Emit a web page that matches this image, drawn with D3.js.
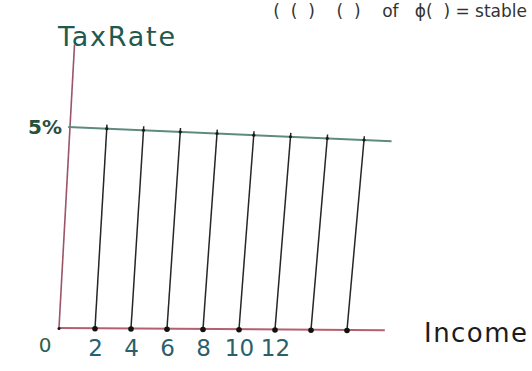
<!DOCTYPE html>
<html>
<head>
<meta charset="utf-8">
<script src="https://cdn.jsdelivr.net/npm/d3@7"></script>
<style>
  body { margin: 0; background: #fff; }
  svg { display: block; }
</style>
</head>
<body>
<div id="chart"></div>
<script>
// values
const incomeLevels = [2, 4, 6, 8, 10, 12, 14, 16]; // one vertical drop per level
const incomeTicks = [2, 4, 6, 8, 10, 12];          // labels written under the axis
const taxRate = 5;                                  // flat rate, percent
const taxRateLabel = "5%";
const yAxisTitle = "TaxRate";
const xAxisTitle = "Income";
const topLine = "(  (  )    (  )    of   ϕ(  ) = stable";

const width = 532,
  height = 371;

const svg = d3
  .select("#chart")
  .append("svg")
  .attr("width", width)
  .attr("height", height);

// scales into a unit square, then a bilinear warp for the hand-drawn lean
const u = d3.scaleLinear().domain([0, 16]).range([0, 1]);
const v = d3.scaleLinear().domain([0, taxRate]).range([0, 1]);

// corners of the sketch: origin, x=16 on axis, 5% on y axis, 5% at x=16
const P00 = [59, 328],
  P10 = [347, 330],
  P01 = [70, 127],
  P11 = [364, 140];

function warp(x, y) {
  const a = u(x),
    b = v(y);
  return [
    (1 - a) * (1 - b) * P00[0] + a * (1 - b) * P10[0] + (1 - a) * b * P01[0] + a * b * P11[0],
    (1 - a) * (1 - b) * P00[1] + a * (1 - b) * P10[1] + (1 - a) * b * P01[1] + a * b * P11[1],
  ];
}

const line = d3.line();

// top line of the notebook page
svg
  .append("text")
  .attr("x", 527)
  .attr("y", 17)
  .attr("text-anchor", "end")
  .style("white-space", "pre")
  .style("font-family", "DejaVu Sans")
  .style("font-size", "17px")
  .style("fill", "#333")
  .text(topLine);

// y axis
svg
  .append("path")
  .attr("d", line([warp(0, 0), warp(0, 7.05)]))
  .style("stroke", "#9a5566")
  .style("stroke-width", 1.6)
  .style("fill", "none");

// x axis line
svg
  .append("path")
  .attr("d", line([warp(0, 0), warp(18.1, 0)]))
  .style("stroke", "#b5606f")
  .style("stroke-width", 2)
  .style("fill", "none");

// flat tax rate line
svg
  .append("path")
  .attr("d", line([warp(-0.1, taxRate), warp(17.5, taxRate)]))
  .style("stroke", "#5f8a80")
  .style("stroke-width", 2)
  .style("fill", "none");

// vertical drops from the rate line to each income level
svg
  .selectAll(".drop")
  .data(incomeLevels)
  .join("path")
  .attr("class", "drop")
  .attr("d", (d) => line([warp(d, 0), warp(d, taxRate * 1.02)]))
  .style("stroke", "#262626")
  .style("stroke-width", 1.5)
  .style("fill", "none");

// dots on the income axis
svg
  .selectAll(".dot")
  .data([0].concat(incomeLevels))
  .join("circle")
  .attr("class", "dot")
  .attr("cx", (d) => warp(d, 0)[0])
  .attr("cy", (d) => warp(d, 0)[1] + 0.5)
  .attr("r", (d) => (d === 0 ? 1.5 : 2.8))
  .style("fill", "#111");

// small marks where drops meet the rate line
svg
  .selectAll(".mark")
  .data(incomeLevels)
  .join("circle")
  .attr("class", "mark")
  .attr("cx", (d) => warp(d, taxRate)[0])
  .attr("cy", (d) => warp(d, taxRate)[1])
  .attr("r", 1.6)
  .style("fill", "#1a1a1a");

// tick labels through the library axis
const xBottom = d3.scaleLinear().domain([0, 16]).range([P00[0], P10[0]]);
const xAxis = svg
  .append("g")
  .attr("transform", "translate(0, 330)")
  .call(d3.axisBottom(xBottom).tickValues(incomeTicks).tickSize(0).tickPadding(10));
xAxis.select(".domain").remove();
xAxis
  .selectAll("text")
  .style("font-family", "DejaVu Sans")
  .style("font-size", "23px")
  .style("fill", "#2c5f6c");

// origin
svg
  .append("text")
  .attr("x", 45)
  .attr("y", 352)
  .attr("text-anchor", "middle")
  .style("font-family", "DejaVu Sans")
  .style("font-size", "20px")
  .style("fill", "#2f5f48")
  .text("0");

// rate label
const p5 = warp(0, taxRate);
svg
  .append("text")
  .attr("x", p5[0] - 8)
  .attr("y", p5[1] + 7)
  .attr("text-anchor", "end")
  .style("font-family", "DejaVu Sans")
  .style("font-size", "20px")
  .style("font-weight", "bold")
  .style("fill", "#28513d")
  .text(taxRateLabel);

// axis titles
svg
  .append("text")
  .attr("x", 58)
  .attr("y", 46)
  .style("font-family", "DejaVu Sans")
  .style("font-size", "27px")
  .style("fill", "#22594e")
  .attr("textLength", 117)
  .text(yAxisTitle);

svg
  .append("text")
  .attr("x", 424)
  .attr("y", 342)
  .style("font-family", "DejaVu Sans")
  .style("font-size", "26px")
  .style("fill", "#1c1c1c")
  .attr("textLength", 103)
  .text(xAxisTitle);
</script>
</body>
</html>
